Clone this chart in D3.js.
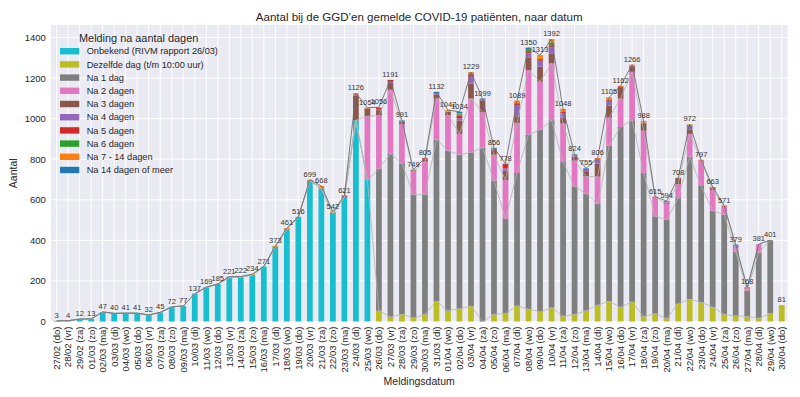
<!DOCTYPE html>
<html>
<head>
<meta charset="utf-8">
<script src="https://cdn.jsdelivr.net/npm/d3@7/dist/d3.min.js"></script>
<style>
  body { margin: 0; background: #fff; }
  svg { font-family: "Liberation Sans", Arial, sans-serif; }
</style>
</head>
<body>
<svg id="chart" width="800" height="397"></svg>
<script>
// meldingsdatum
const dates = ["27/02 (do)","28/02 (vr)","29/02 (za)","01/03 (zo)","02/03 (ma)","03/03 (di)","04/03 (wo)","05/03 (do)","06/03 (vr)","07/03 (za)","08/03 (zo)","09/03 (ma)","10/03 (di)","11/03 (wo)","12/03 (do)","13/03 (vr)","14/03 (za)","15/03 (zo)","16/03 (ma)","17/03 (di)","18/03 (wo)","19/03 (do)","20/03 (vr)","21/03 (za)","22/03 (zo)","23/03 (ma)","24/03 (di)","25/03 (wo)","26/03 (do)","27/03 (vr)","28/03 (za)","29/03 (zo)","30/03 (ma)","31/03 (di)","01/04 (wo)","02/04 (do)","03/04 (vr)","04/04 (za)","05/04 (zo)","06/04 (ma)","07/04 (di)","08/04 (wo)","09/04 (do)","10/04 (vr)","11/04 (za)","12/04 (zo)","13/04 (ma)","14/04 (di)","15/04 (wo)","16/04 (do)","17/04 (vr)","18/04 (za)","19/04 (zo)","20/04 (ma)","21/04 (di)","22/04 (wo)","23/04 (do)","24/04 (vr)","25/04 (za)","26/04 (zo)","27/04 (ma)","28/04 (di)","29/04 (wo)","30/04 (do)"];

// per vertraging (melding na aantal dagen)
const onbekend = [3,4,12,13,47,40,41,41,32,45,72,77,135,169,185,217,219,230,271,368,455,516,694,656,531,615,992,697,
  0,0,0,0,0,0,0,0,0,0,0,0,0,0,0,0,0,0,0,0,0,0,0,0,0,0,0,0,0,0,0,0,0,0,0,0];
const dezelfdeDag = [0,0,0,0,0,0,0,0,0,0,0,0,0,0,0,0,0,0,0,0,0,0,0,0,0,0,0,0,
  53,23,35,18,35,100,53,63,76,0,35,40,77,61,48,68,26,35,53,81,100,71,97,25,38,15,87,110,94,71,35,28,25,16,41,81];
const na1 = [0,0,0,0,0,0,0,0,0,0,0,0,0,0,0,0,0,0,0,0,0,0,0,0,0,0,0,0,
  700,804,745,607,591,797,789,759,758,857,659,466,655,860,896,924,760,631,577,498,767,888,895,708,481,486,521,703,574,475,492,317,127,324,360,0];
const na2 = [0,0,0,0,0,0,0,0,0,0,0,0,0,0,0,0,0,0,0,0,0,0,0,0,0,0,0,315,
  262,315,194,115,162,202,175,103,265,175,128,191,247,318,238,280,190,127,85,135,138,140,239,208,93,79,69,112,125,102,40,19,11,41,0,0];
const na3 = [0,0,0,0,0,0,0,0,0,0,0,0,0,0,0,0,0,0,0,0,0,0,0,0,5,0,122,36,
  27,35,12,6,11,20,16,66,73,58,25,46,33,61,74,50,28,20,22,64,60,53,23,36,0,6,30,21,0,8,0,4,0,0,0,0];
const na4 = [0,0,0,0,0,0,0,0,0,0,0,0,0,0,0,0,0,0,0,0,0,0,0,0,0,0,5,0,
  5,3,1,0,0,4,2,11,35,4,0,11,54,22,28,30,23,5,10,20,23,0,3,3,0,8,0,22,0,0,0,9,0,0,0,0];
const na5 = [0,0,0,0,0,0,0,0,0,0,0,0,0,0,0,0,0,0,0,0,0,0,0,0,0,6,0,2,
  6,11,1,0,6,2,0,13,11,0,0,22,10,6,4,9,8,2,0,3,5,7,3,0,3,0,1,0,2,3,4,0,5,0,0,0];
const na6 = [0,0,0,0,0,0,0,0,0,0,0,0,0,0,0,0,0,0,0,0,0,0,0,0,0,0,0,1,
  0,0,0,0,0,0,0,7,6,0,4,0,0,14,6,14,0,0,5,0,0,0,0,0,0,0,0,2,0,4,0,0,0,0,0,0];
const na7tot14 = [0,0,0,0,0,0,0,0,0,0,0,0,0,0,0,0,0,4,0,5,6,0,5,12,6,0,7,3,
  3,0,0,3,0,0,7,5,5,0,0,0,13,0,19,17,13,0,0,5,12,3,6,8,0,0,0,2,2,0,0,0,0,0,0,0];
const na14plus = [0,0,0,0,0,0,0,0,0,0,0,0,2,0,0,4,3,0,0,0,0,0,0,0,0,0,0,0,
  0,0,3,0,0,7,0,7,0,5,5,2,0,8,0,0,0,4,3,0,0,0,0,0,0,0,0,0,0,0,0,2,0,0,0,0];

const seriesLabels = ["Onbekend (RIVM rapport 26/03)", "Dezelfde dag (t/m 10:00 uur)", "Na 1 dag", "Na 2 dagen",
  "Na 3 dagen", "Na 4 dagen", "Na 5 dagen", "Na 6 dagen", "Na 7 - 14 dagen", "Na 14 dagen of meer"];
const seriesColors = ["#17becf", "#bcbd22", "#7f7f7f", "#e377c2", "#8c564b", "#9467bd", "#d62728", "#2ca02c", "#ff7f0e", "#1f77b4"];
const seriesValues = [onbekend, dezelfdeDag, na1, na2, na3, na4, na5, na6, na7tot14, na14plus];

const yTicks = [0, 200, 400, 600, 800, 1000, 1200, 1400];

// layout
const plot = { left: 50.9, right: 787.5, top: 25, bottom: 321.5 };

const rows = dates.map((d, i) => {
  const r = { date: d };
  seriesValues.forEach((s, k) => { r[k] = s[i]; });
  return r;
});
const keys = d3.range(seriesValues.length);
const stacked = d3.stack().keys(keys)(rows);
const totals = rows.map((r) => d3.sum(keys, (k) => r[k]));

const svg = d3.select("#chart");

const x = d3.scaleBand()
  .domain(d3.range(dates.length))
  .range([plot.left, plot.right])
  .paddingInner(0.5)
  .paddingOuter(0.25);

const yMax = d3.max(totals) * 1.05;
const y = d3.scaleLinear().domain([0, yMax]).range([plot.bottom, plot.top]);

// achtergrond + grid
svg.append("rect")
  .attr("x", plot.left).attr("y", plot.top)
  .attr("width", plot.right - plot.left).attr("height", plot.bottom - plot.top)
  .attr("fill", "#eaeaf2");

const grid = svg.append("g").attr("stroke", "#fff").attr("stroke-width", 1);
grid.selectAll("line.h").data(yTicks).join("line")
  .attr("x1", plot.left).attr("x2", plot.right)
  .attr("y1", (d) => y(d)).attr("y2", (d) => y(d));
grid.selectAll("line.v").data(d3.range(dates.length)).join("line")
  .attr("y1", plot.top).attr("y2", plot.bottom)
  .attr("x1", (i) => x(i) + x.bandwidth() / 2).attr("x2", (i) => x(i) + x.bandwidth() / 2);

// bars
svg.append("g")
  .selectAll("g")
  .data(stacked)
  .join("g")
  .attr("fill", (d, k) => seriesColors[k])
  .selectAll("rect")
  .data((d) => d.map((v, i) => ({ v, i })))
  .join("rect")
  .attr("x", (d) => x(d.i))
  .attr("width", x.bandwidth())
  .attr("y", (d) => y(d.v[1]))
  .attr("height", (d) => y(d.v[0]) - y(d.v[1]));

// lijnen per cumulatief niveau (t/m 29/04)
const lastLineIdx = dates.length - 2;
const cx = (i) => x(i) + x.bandwidth() / 2;
const line = d3.line()
  .defined((d) => d.i <= lastLineIdx && d.show)
  .x((d) => cx(d.i))
  .y((d) => y(d.v));
[0, 1, 2, 3].forEach((k) => {
  svg.append("path")
    .datum(stacked[k].map((v, i) => ({ i, v: v[1], show: k > 0 || i <= 27 })))
    .attr("d", line)
    .attr("fill", "none")
    .attr("stroke", "#b4b4b4")
    .attr("stroke-width", 0.8);
});
svg.append("path")
  .datum(totals.map((v, i) => ({ i, v, show: true })))
  .attr("d", line)
  .attr("fill", "none")
  .attr("stroke", "#6e6e6e")
  .attr("stroke-width", 0.9);

// waarden boven de staven
svg.append("g")
  .attr("font-size", 7.5)
  .attr("fill", "#333")
  .attr("text-anchor", "middle")
  .selectAll("text")
  .data(totals)
  .join("text")
  .attr("x", (d, i) => cx(i))
  .attr("y", (d) => y(d) - 3)
  .text((d) => d);

// assen
const yAxis = d3.axisLeft(y).tickValues(yTicks).tickFormat(d3.format("d")).tickSize(0).tickPadding(5);
svg.append("g")
  .attr("transform", `translate(${plot.left},0)`)
  .call(yAxis)
  .call((g) => g.select(".domain").remove())
  .call((g) => g.selectAll("text").attr("font-size", 9.5).attr("fill", "#262626").attr("font-family", null));

const xAxis = d3.axisBottom(x).tickSize(0).tickFormat((i) => dates[i]);
svg.append("g")
  .attr("transform", `translate(0,${plot.bottom})`)
  .call(xAxis)
  .call((g) => g.select(".domain").remove())
  .call((g) => g.selectAll("text")
    .attr("font-size", 9.5)
    .attr("fill", "#262626")
    .attr("font-family", null)
    .attr("text-anchor", "end")
    .attr("dy", "0.35em")
    .attr("transform", "translate(0,5) rotate(-90)")
    .attr("x", 0).attr("y", 0));

svg.append("text")
  .attr("x", (plot.left + plot.right) / 2).attr("y", 21)
  .attr("text-anchor", "middle").attr("font-size", 11.5).attr("fill", "#262626")
  .text("Aantal bij de GGD’en gemelde COVID-19 patiënten, naar datum");

svg.append("text")
  .attr("x", (plot.left + plot.right) / 2).attr("y", 385)
  .attr("text-anchor", "middle").attr("font-size", 10.5).attr("fill", "#262626")
  .text("Meldingsdatum");

svg.append("text")
  .attr("transform", `translate(17,${(plot.top + plot.bottom) / 2}) rotate(-90)`)
  .attr("text-anchor", "middle").attr("font-size", 10.5).attr("fill", "#262626")
  .text("Aantal");

// legenda
const legend = svg.append("g").attr("transform", "translate(60,38)");
legend.append("text")
  .attr("x", 19).attr("y", 4)
  .attr("font-size", 10.9).attr("fill", "#262626")
  .text("Melding na aantal dagen");
const item = legend.selectAll("g.item").data(seriesLabels).join("g")
  .attr("class", "item")
  .attr("transform", (d, k) => `translate(0,${13 + k * 13.2})`);
item.append("rect")
  .attr("x", 0).attr("y", -3).attr("width", 19.3).attr("height", 6.4)
  .attr("fill", (d, k) => seriesColors[k]);
item.append("text")
  .attr("x", 26.7).attr("y", 3.3)
  .attr("font-size", 9.2).attr("fill", "#262626")
  .text((d) => d);
</script>
</body>
</html>
